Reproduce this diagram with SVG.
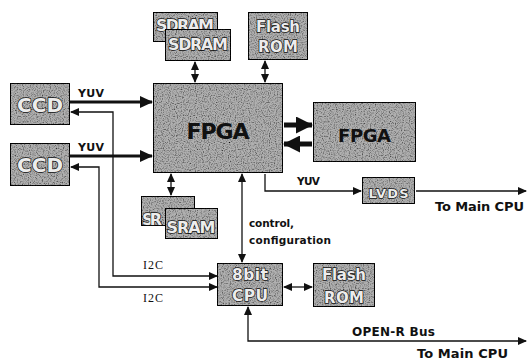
<svg xmlns="http://www.w3.org/2000/svg" width="530" height="361" viewBox="0 0 530 361">
<style>
.box{fill:#b0b0b0;stroke:#111;stroke-width:2;filter:url(#grain)}
.in{font-family:"DejaVu Sans","Liberation Sans",sans-serif;font-weight:bold;fill:#ececec;stroke:#111;stroke-width:1.4;paint-order:stroke;text-anchor:middle}
.blk{font-family:"DejaVu Sans","Liberation Sans",sans-serif;font-weight:bold;fill:#111;text-anchor:middle}
.lbl{font-family:"DejaVu Sans","Liberation Sans",sans-serif;font-weight:bold;fill:#111;font-size:10.5px}
.yuv{font-size:11px}
.bus{font-size:12px}
.big{font-size:13px}
.ser{font-family:"Liberation Serif",serif;fill:#111;font-size:12px}
.thin{fill:none;stroke:#111;stroke-width:1.3}
.thick{fill:none;stroke:#111;stroke-width:3}
.fat{fill:none;stroke:#111;stroke-width:5}
</style>
<defs>
<filter id="grain" x="0" y="0" width="100%" height="100%">
<feTurbulence type="fractalNoise" baseFrequency="0.85" numOctaves="1" seed="4" result="n"/>
<feColorMatrix in="n" type="matrix" values="0 0 0 0 0  0 0 0 0 0  0 0 0 0 0  0 0 0 -2.4 1.35" result="d"/>
<feComposite in="d" in2="SourceGraphic" operator="in" result="dm"/>
<feMerge><feMergeNode in="SourceGraphic"/><feMergeNode in="dm"/></feMerge>
</filter>
<marker id="a" markerUnits="userSpaceOnUse" markerWidth="9" markerHeight="8" refX="8" refY="4" orient="auto-start-reverse"><path d="M0,0 L9,4 L0,8 z" fill="#111"/></marker>
<marker id="b" markerUnits="userSpaceOnUse" markerWidth="13" markerHeight="12" refX="12" refY="6" orient="auto-start-reverse"><path d="M0,0 L13,6 L0,12 z" fill="#111"/></marker>
<marker id="c" markerUnits="userSpaceOnUse" markerWidth="17" markerHeight="17" refX="16" refY="8.5" orient="auto-start-reverse"><path d="M0,0 L17,8.5 L0,17 z" fill="#111"/></marker>
</defs>

<g id="connectors">
<path class="thick" d="M70 102 H152" marker-end="url(#b)"/>
<path class="thick" d="M70 156 H152" marker-end="url(#b)"/>
<path class="thin" d="M71 112 H113 V276 H217" marker-start="url(#a)" marker-end="url(#a)"/>
<path class="thin" d="M71 167 H99 V287 H217" marker-start="url(#a)" marker-end="url(#a)"/>
<path class="thin" d="M195 62 V82" marker-start="url(#a)" marker-end="url(#a)"/>
<path class="thin" d="M265 61 V82" marker-start="url(#a)" marker-end="url(#a)"/>
<path class="thin" d="M171 174 V195" marker-start="url(#a)" marker-end="url(#a)"/>
<path class="fat" d="M284 125 H312" marker-end="url(#c)"/>
<path class="fat" d="M312 144 H284" marker-end="url(#c)"/>
<path class="thin" d="M265 174 V191 H361" marker-end="url(#a)"/>
<path class="thin" d="M416 191 H526" marker-end="url(#a)"/>
<path class="thin" d="M242 174 V262" marker-start="url(#a)" marker-end="url(#a)"/>
<path class="thin" d="M284 287 H312" marker-start="url(#a)" marker-end="url(#a)"/>
<path class="thin" d="M248 307 V341 H526" marker-start="url(#a)" marker-end="url(#a)"/>
<text class="lbl yuv" x="78" y="97" textLength="26">YUV</text>
<text class="lbl yuv" x="78" y="151" textLength="26">YUV</text>
<text class="ser" x="143" y="269" textLength="20">I2C</text>
<text class="ser" x="143" y="302" textLength="20">I2C</text>
<text class="lbl" x="297" y="185" textLength="23">YUV</text>
<text class="lbl" x="249" y="227" textLength="45">control,</text>
<text class="lbl" x="249" y="244" textLength="82">configuration</text>
<text class="lbl big" x="435" y="211" textLength="89">To Main CPU</text>
<text class="lbl bus" x="352" y="336" textLength="83">OPEN-R Bus</text>
<text class="lbl big" x="417" y="358" textLength="91">To Main CPU</text>
</g>

<g id="ccd1"><rect class="box" x="10" y="83" width="60" height="42"/><text class="in" x="40" y="112" font-size="20" textLength="46">CCD</text></g>
<g id="ccd2"><rect class="box" x="10" y="143" width="60" height="43"/><text class="in" x="40" y="172" font-size="20" textLength="46">CCD</text></g>
<g id="fpga"><rect class="box" x="153" y="83" width="130" height="90"/><text class="blk" x="218" y="139" font-size="22" textLength="63">FPGA</text></g>
<g id="fpga2"><rect class="box" x="313" y="102" width="103" height="60"/><text class="blk" x="364.5" y="142" font-size="18" textLength="53">FPGA</text></g>
<g id="sdram1"><rect class="box" x="153" y="12" width="65" height="30"/><text class="in" x="185" y="31" font-size="16" textLength="58">SDRAM</text></g>
<g id="sdram2"><rect class="box" x="165" y="29" width="66" height="32"/><text class="in" x="198" y="50" font-size="16" textLength="60">SDRAM</text></g>
<g id="flash1"><rect class="box" x="248" y="12" width="60" height="48"/><text class="in" x="278" y="32" font-size="15" textLength="44">Flash</text><text class="in" x="278" y="52" font-size="15" textLength="40">ROM</text></g>
<g id="sram1"><rect class="box" x="141" y="196" width="54" height="30"/><text class="in" x="152" y="225" font-size="16" textLength="20">SR</text></g>
<g id="sram2"><rect class="box" x="165" y="208" width="53" height="31"/><text class="in" x="191" y="233" font-size="16" textLength="49">SRAM</text></g>
<g id="cpu"><rect class="box" x="217" y="263" width="66" height="43"/><text class="in" x="250" y="280" font-size="15.5" textLength="36">8bit</text><text class="in" x="250" y="301" font-size="15.5" textLength="36">CPU</text></g>
<g id="flash2"><rect class="box" x="313" y="263" width="62" height="44"/><text class="in" x="344" y="280" font-size="15" textLength="44">Flash</text><text class="in" x="344" y="303" font-size="15" textLength="40">ROM</text></g>
<g id="lvds"><rect class="box" x="362" y="177" width="53" height="27"/><text class="in" x="388.5" y="198" font-size="13" textLength="40">LVDS</text></g>
</svg>
